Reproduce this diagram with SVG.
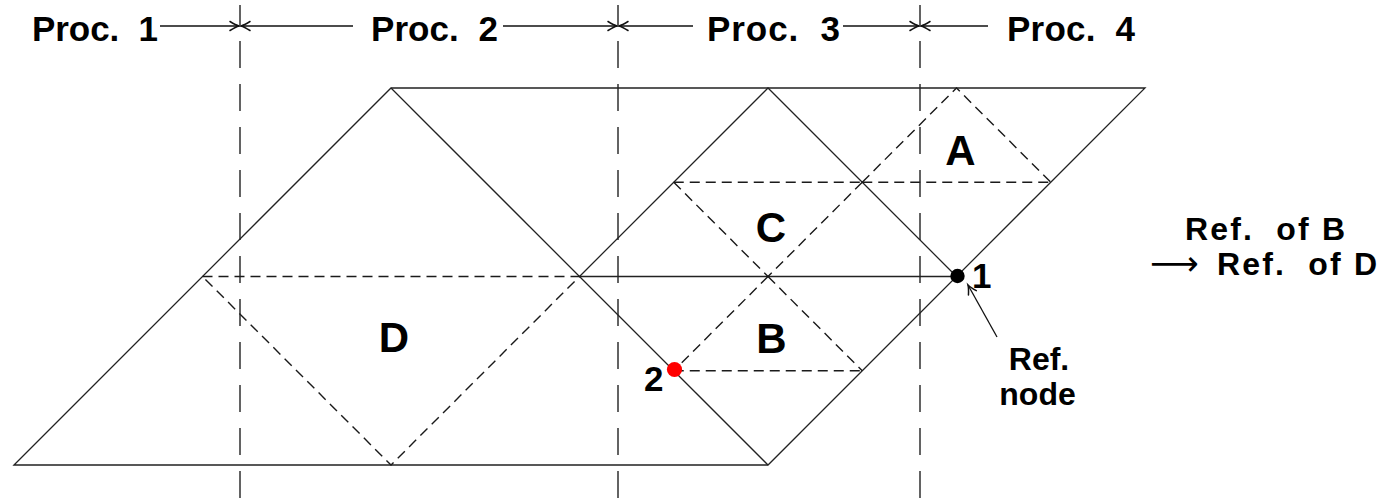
<svg xmlns="http://www.w3.org/2000/svg" width="1385" height="499" viewBox="0 0 1385 499">
<style>
.s{fill:none;stroke:#222;stroke-width:1.3}
.d{fill:none;stroke:#1a1a1a;stroke-width:1.4;stroke-dasharray:10 6}
.v{fill:none;stroke:#222;stroke-width:1.4;stroke-dasharray:27 16;stroke-dashoffset:7}
.a{fill:none;stroke:#111;stroke-width:1.3;marker-end:url(#tip)}
.t{font-family:"Liberation Sans",Arial,sans-serif;font-weight:bold;font-size:35px;fill:#000}
.r{font-family:"Liberation Sans",Arial,sans-serif;font-weight:bold;font-size:32px;fill:#000}
.L{font-family:"Liberation Sans",Arial,sans-serif;font-weight:bold;font-size:42px;fill:#000;text-anchor:middle}
</style>
<defs>
<marker id="tip" markerUnits="userSpaceOnUse" markerWidth="14" markerHeight="12" viewBox="-10 -6 12 12" refX="0" refY="0" orient="auto">
<path d="M-9,-4.5 Q-3,-0.8 0,0 Q-3,0.8 -9,4.5" fill="none" stroke="#111" stroke-width="1.5" stroke-linecap="round"/>
</marker>
</defs>
<g id="mesh">
<polygon class="s" points="14,465 391,88 1145,88 768,465"/>
<line class="s" x1="391" y1="88" x2="768" y2="465"/>
<polyline class="s" points="579.5,276.5 768,88 956.5,276.5"/>
<line class="s" x1="579.5" y1="276.5" x2="956.5" y2="276.5"/>
</g>
<g id="element-D">
<polygon class="d" points="202.5,276.5 579.5,276.5 391,465"/>
<text class="L" x="394" y="352">D</text>
</g>
<g id="element-C">
<line class="d" x1="673.75" y1="182.25" x2="862.25" y2="182.25"/>
<line class="d" x1="673.75" y1="182.25" x2="768" y2="276.5"/>
<line class="d" x1="862.25" y1="182.25" x2="768" y2="276.5"/>
<text class="L" x="771" y="242">C</text>
</g>
<g id="element-B">
<line class="d" x1="673.75" y1="370.75" x2="862.25" y2="370.75"/>
<line class="d" x1="768" y1="276.5" x2="673.75" y2="370.75"/>
<line class="d" x1="768" y1="276.5" x2="862.25" y2="370.75"/>
<text class="L" x="771.5" y="353">B</text>
</g>
<g id="element-A">
<polyline class="d" points="862.25,182.25 956.5,88 1050.75,182.25"/>
<line class="d" x1="862.25" y1="182.25" x2="1050.75" y2="182.25"/>
<text class="L" x="960.5" y="165">A</text>
</g>
<g id="partitions">
<line class="v" x1="240" y1="5" x2="240" y2="499"/>
<line class="v" x1="618" y1="5" x2="618" y2="499"/>
<line class="v" x1="920" y1="5" x2="920" y2="499"/>
</g>
<g id="node-1">
<circle cx="957.5" cy="276" r="7.2" fill="#000"/>
<text class="t" x="972" y="288">1</text>
</g>
<g id="node-2">
<circle cx="674.5" cy="369.5" r="7.6" fill="#f00"/>
<text class="t" x="644" y="391">2</text>
</g>
<g id="labels">
<text class="t" x="32" y="41" xml:space="preserve" textLength="126" lengthAdjust="spacing">Proc.  1</text>
<text class="t" x="371" y="41" xml:space="preserve" textLength="127" lengthAdjust="spacing">Proc.  2</text>
<text class="t" x="707" y="41" xml:space="preserve" textLength="133" lengthAdjust="spacing">Proc.  3</text>
<text class="t" x="1007" y="41" xml:space="preserve" textLength="128" lengthAdjust="spacing">Proc.  4</text>
<text class="r" x="1039" y="370" text-anchor="middle">Ref.</text>
<text class="r" x="1037.5" y="405" text-anchor="middle">node</text>
<text class="r" x="1185" y="240" xml:space="preserve" textLength="160" lengthAdjust="spacing">Ref.  of B</text>
<text class="r" x="1150" y="275" xml:space="preserve"><tspan style="font-family:'DejaVu Sans',sans-serif;font-weight:normal;font-size:34px">⟶</tspan><tspan x="1217" textLength="160" lengthAdjust="spacing">Ref.  of D</tspan></text>
</g>
<g id="connectors">
<line class="a" x1="160" y1="26" x2="239" y2="26"/>
<line class="a" x1="353" y1="26" x2="241" y2="26"/>
<line class="a" x1="503" y1="26" x2="617" y2="26"/>
<line class="a" x1="693" y1="26" x2="619" y2="26"/>
<line class="a" x1="843" y1="26" x2="919" y2="26"/>
<line class="a" x1="988" y1="26" x2="921" y2="26"/>
<line class="a" x1="997" y1="337" x2="968" y2="285"/>
</g>
</svg>
